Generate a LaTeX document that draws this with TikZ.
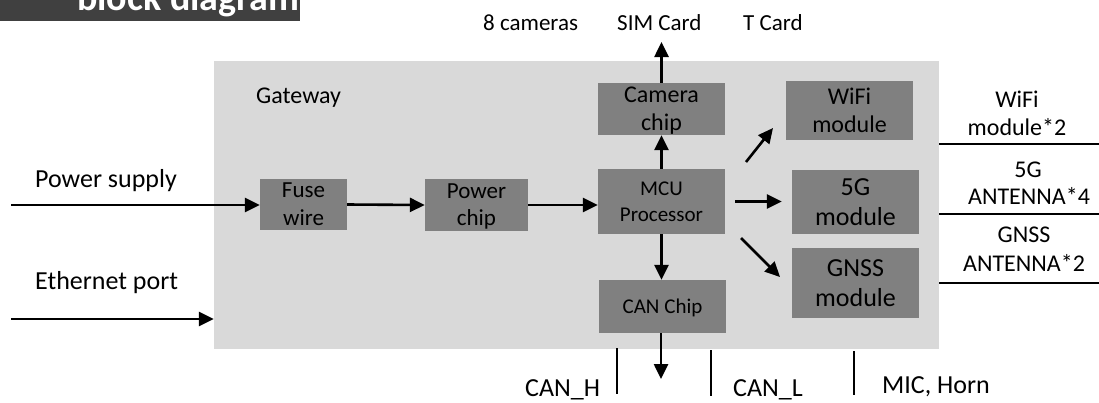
\documentclass[tikz,border=0pt]{standalone}
\usepackage{fontspec}
\setmainfont{Carlito}
\usetikzlibrary{arrows.meta,calc}
\definecolor{gwgray}{HTML}{D9D9D9}
\definecolor{boxgray}{HTML}{808080}
\definecolor{bannergray}{HTML}{404040}
\begin{document}
\begin{tikzpicture}[x=1pt,y=-1pt,
  blk/.style={fill=boxgray, draw=none, inner sep=0pt, align=center, text depth=0pt},
  arr/.style={line width=2.6pt, -{Triangle[length=15pt,width=14pt]}},
  ln/.style={line width=2.6pt},
  lbl/.style={inner sep=0pt, anchor=base west},
  clbl/.style={inner sep=0pt, anchor=base},
]
\useasboundingbox (0,0) rectangle (1099,402);
% banner
\node[fill=bannergray, minimum width=300pt, minimum height=21pt, anchor=north west, inner sep=0pt] (banner) at (0,0) {};
\node[lbl, text=white, font={\fontsize{38}{40}\selectfont\bfseries}] (bannertxt) at (77,10) {block diagram};
% gateway
\node[fill=gwgray, minimum width=725pt, minimum height=288pt, inner sep=0pt] (gw) at (576.5,205) {};
\node[lbl, font={\fontsize{24}{28}\selectfont}] (gwlbl) at (256,103) {Gateway};
% blocks
\node[blk, minimum width=87pt, minimum height=51pt, font={\fontsize{23}{28}\selectfont}] (fuse) at (303.5,204.5) {Fuse\\wire};
\node[blk, minimum width=103pt, minimum height=52pt, font={\fontsize{23}{27}\selectfont}] (power) at (476.5,205) {Power\\chip};
\node[blk, minimum width=127pt, minimum height=52pt, font={\fontsize{24}{28}\selectfont}] (cam) at (661.5,109) {Camera\\chip};
\node[blk, minimum width=127pt, minimum height=65pt, font={\fontsize{21}{26}\selectfont}] (mcu) at (661.5,201.5) {MCU\\Processor};
\node[blk, minimum width=127pt, minimum height=59pt, font={\fontsize{24}{28}\selectfont}] (wifi) at (849.5,110.5) {WiFi\\module};
\node[blk, minimum width=127pt, minimum height=64pt, font={\fontsize{26}{30}\selectfont}] (g5) at (855.5,202) {5G\\module};
\node[blk, minimum width=127pt, minimum height=70pt, font={\fontsize{26}{30}\selectfont}] (gnss) at (855.5,283) {GNSS\\module};
\node[blk, minimum width=127pt, minimum height=53pt, font={\fontsize{21}{26}\selectfont}] (can) at (662.5,306.5) {CAN Chip};
% outside labels
\node[lbl, font={\fontsize{26}{30}\selectfont}] (pslbl) at (35,187) {Power supply};
\node[lbl, font={\fontsize{26}{30}\selectfont}] (ethlbl) at (35,289) {Ethernet port};
\node[lbl, font={\fontsize{23}{28}\selectfont}] (cams) at (483,30) {8 cameras};
\node[lbl, font={\fontsize{23}{28}\selectfont}] (sim) at (617,30) {SIM Card};
\node[lbl, font={\fontsize{23}{28}\selectfont}] (tcard) at (743,30) {T Card};
\node[clbl, font={\fontsize{24}{28}\selectfont}] (wifiA) at (1017,107) {WiFi};
\node[clbl, font={\fontsize{24}{28}\selectfont}] (wifiB) at (1017,135) {module*2};
\node[clbl, font={\fontsize{24}{28}\selectfont}] (g5A) at (1028,177) {5G};
\node[clbl, font={\fontsize{24}{28}\selectfont}] (g5B) at (1029,204) {ANTENNA*4};
\node[clbl, font={\fontsize{24}{28}\selectfont}] (gnA) at (1024,242) {GNSS};
\node[clbl, font={\fontsize{24}{28}\selectfont}] (gnB) at (1024,271) {ANTENNA*2};
\node[lbl, font={\fontsize{26}{30}\selectfont}] (canh) at (525,396) {CAN\_H};
\node[lbl, font={\fontsize{26}{30}\selectfont}] (canl) at (733,396) {CAN\_L};
\node[lbl, font={\fontsize{26}{30}\selectfont}] (mic) at (882,393) {MIC, Horn};
% coordinates
\coordinate (ps) at (11,205);
\coordinate (eth) at (11,319);
\coordinate (camtop) at (661.5,42);
\coordinate (canbot) at (661,379);
\coordinate (w1) at (746,162);
\coordinate (w2) at (773,128);
\coordinate (n1) at (741,238);
\coordinate (n2) at (780,277);
% arrows
\draw[arr] (ps) -- (fuse.west |- ps);
\draw[arr] (fuse.east) -- (power.west);
\draw[arr] (power.east) -- (mcu.west |- power.east);
\draw[arr] (eth) -- (eth -| gw.west);
\draw[arr] (mcu.north -| cam.south) -- (cam.south);
\draw[arr] (cam.north) -- (camtop);
\draw[arr] (w1) -- (w2);
\draw[arr, shorten <=10pt, shorten >=10pt] (mcu.east) -- (g5.west |- mcu.east);
\draw[arr] (n1) -- (n2);
\draw[arr] (mcu.south) -- (can.north -| mcu.south);
\draw[arr] (can.south -| canbot) -- (canbot);
% bottom bars
\draw[ln] (617,348) -- (617,394);
\draw[ln] (711,350) -- (711,396);
\draw[ln] (854,351) -- (854,395);
% right lines
\draw[ln] (gw.east |- 0,144) -- (1099,144);
\draw[ln] (gw.east |- 0,214) -- (1099,214);
\draw[ln] (gw.east |- 0,283) -- (1099,283);
\end{tikzpicture}
\end{document}
